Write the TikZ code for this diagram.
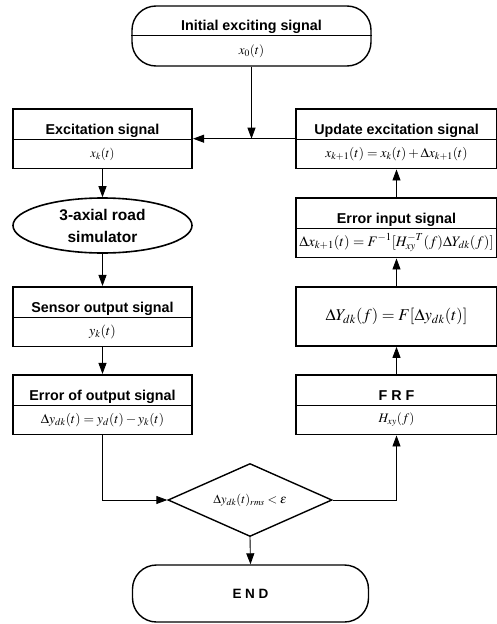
\documentclass[tikz,border=0pt]{standalone}
\usepackage{mathptmx}
\usepackage{fontspec}
\setmainfont{Liberation Serif}
\newfontfamily\headfont{Liberation Sans}
\usetikzlibrary{arrows.meta, positioning, fit, shapes.geometric}
\newcommand\fsz[1]{\fontsize{#1}{#1}\selectfont}
\tikzset{
  >={Triangle[length=11pt, width=8pt]},
  sigframe/.style={draw, line width=1.7pt, inner sep=0pt},
  head/.style={inner sep=0pt, text height=24pt, text depth=4pt, minimum height=30pt,
    font=\headfont\bfseries\fsz{14.3}},
  body/.style={inner sep=0pt, minimum height=29pt, font=\fsz{13.5}},
  lcol/.style={minimum width=179pt},
  rcol/.style={minimum width=201pt},
  divider/.style={line width=0.6pt},
  term/.style={draw, line width=1.4pt, rounded corners=24pt, inner sep=0pt},
  flow/.style={->, line width=0.9pt},
}
\begin{document}
\begin{tikzpicture}[x=1pt, y=-1pt]
  \useasboundingbox (0,0) rectangle (497,624);

  % start
  \node[term, minimum width=239pt, minimum height=60pt] (init) at (251.5,36) {};
  \node[head, minimum width=200pt, minimum height=29pt] (inith) at (251.5,20.5) {Initial exciting signal};
  \node[body, below=0pt of inith, minimum height=31pt, font=\fsz{13}] (initb) {$x_0(t)$};
  \draw[divider] (init.west |- inith.south) -- (init.east |- inith.south);

  % left column
  \node[head, lcol] (exch) at (102.5,124) {Excitation signal};
  \node[body, lcol, below=0pt of exch, font=\fsz{12.5}] (excb) {$x_k(t)$};
  \draw[divider] (exch.south west) -- (exch.south east);
  \node[sigframe, fit=(exch)(excb)] (exc) {};

  \node[draw, ellipse, line width=1.6pt, minimum width=179pt, minimum height=55pt, inner sep=0pt,
    align=center, font=\headfont\bfseries\fontsize{15.5}{22}\selectfont] (sim) at (102.5,225.5)
    {3-axial road\\simulator};

  \node[head, lcol] (sensh) at (102.5,302) {Sensor output signal};
  \node[body, lcol, below=0pt of sensh, font=\fsz{14}] (sensb) {$y_k(t)$};
  \draw[divider] (sensh.south west) -- (sensh.south east);
  \node[sigframe, fit=(sensh)(sensb)] (sens) {};

  \node[head, lcol] (errh) at (102.5,390) {Error of output signal};
  \node[body, lcol, below=0pt of errh] (errb) {$\Delta y_{dk}(t)=y_d(t)-y_k(t)$};
  \draw[divider] (errh.south west) -- (errh.south east);
  \node[sigframe, fit=(errh)(errb)] (err) {};

  % right column
  \node[head, rcol] (updh) at (396.5,124) {Update excitation signal};
  \node[body, rcol, below=0pt of updh] (updb) {$x_{k+1}(t)=x_k(t)+\Delta x_{k+1}(t)$};
  \draw[divider] (updh.south west) -- (updh.south east);
  \node[sigframe, fit=(updh)(updb)] (upd) {};

  \node[head, rcol] (einph) at (396.5,213) {Error input signal};
  \node[body, rcol, below=0pt of einph, font=\fsz{14.5}] (einpb)
    {$\Delta x_{k+1}(t)=F^{-1}[H_{xy}^{-T}(f)\Delta Y_{dk}(f)]$};
  \draw[divider] (einph.south west) -- (einph.south east);
  \node[sigframe, fit=(einph)(einpb)] (einp) {};

  \node[sigframe, rcol, minimum height=59pt, font=\fsz{16.5}] (dY) at (396.5,316.5)
    {$\Delta Y_{dk}(f)=F[\Delta y_{dk}(t)]$};

  \node[head, rcol] (frfh) at (396.5,390) {F R F};
  \node[body, rcol, below=0pt of frfh, font=\fsz{13}] (frfb) {$H_{xy}(f)$};
  \draw[divider] (frfh.south west) -- (frfh.south east);
  \node[sigframe, fit=(frfh)(frfb)] (frf) {};

  % decision and end
  \node[draw, diamond, aspect=2.25, line width=1.4pt, minimum width=164pt, minimum height=73pt,
    inner sep=0pt, font=\fsz{12.5}] (dec) at (250,500) {$\Delta y_{dk}(t)_{rms}<\varepsilon$};
  \node[term, minimum width=236pt, minimum height=57pt,
    font=\headfont\bfseries\fsz{13.5}] (fin) at (250.5,593.5) {E N D};

  % connectors
  \coordinate (merge) at (init.south |- exc.east);
  \draw[flow] (init.south) -- (merge);
  \draw[flow] (upd.west) -- (exc.east);
  \draw[flow] (exc.south) -- (sim.north);
  \draw[flow] (sim.south) -- (sens.north);
  \draw[flow] (sens.south) -- (err.north);
  \draw[flow] (err.south) |- (dec.west);
  \draw[flow] (dec.east) -| (frf.south);
  \draw[flow] (frf.north) -- (dY.south);
  \draw[flow] (dY.north) -- (einp.south);
  \draw[flow] (einp.north) -- (upd.south);
  \draw[flow] (dec.south) -- (fin.north);
\end{tikzpicture}
\end{document}
